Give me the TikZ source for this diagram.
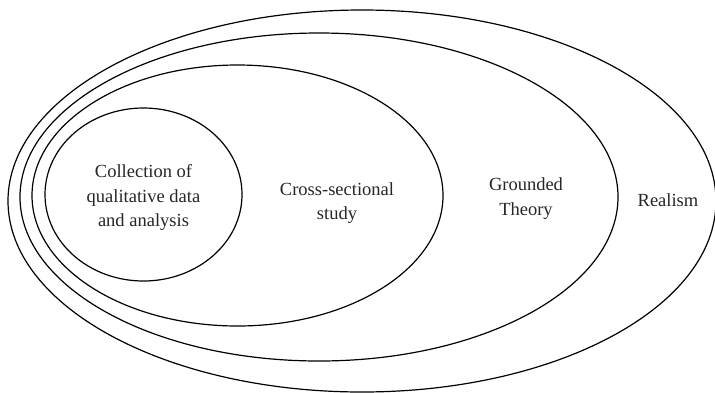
\documentclass[tikz,border=0pt]{standalone}
\usepackage{fontspec}
\setmainfont{Liberation Serif}
\begin{document}
\begin{tikzpicture}[x=1pt,y=-1pt,
  ring/.style={draw=black,line width=1.2pt},
  label/.style={align=center,inner sep=0pt,text=black!85,
    font=\fontsize{18.5}{24.5}\selectfont}]
  \useasboundingbox (0,0) rectangle (715,392);
  % nested ellipses, outermost first
  \draw[ring] (362,201) ellipse [x radius=354, y radius=191];
  \draw[ring] (319,197) ellipse [x radius=299, y radius=164];
  \draw[ring] (237.5,195.5) ellipse [x radius=205.5, y radius=130.5];
  \draw[ring] (143.5,194.5) ellipse [x radius=98.5, y radius=86.5];
  % labels
  \node[label] (collect) at (143.5,197.5) {Collection of\\qualitative data\\and analysis};
  \node[label] (cross) at (337,203) {Cross-sectional\\study};
  \node[label] (grounded) at (526,198.5) {Grounded\\Theory};
  \node[label] (realism) at (668,199.7) {Realism};
\end{tikzpicture}
\end{document}
